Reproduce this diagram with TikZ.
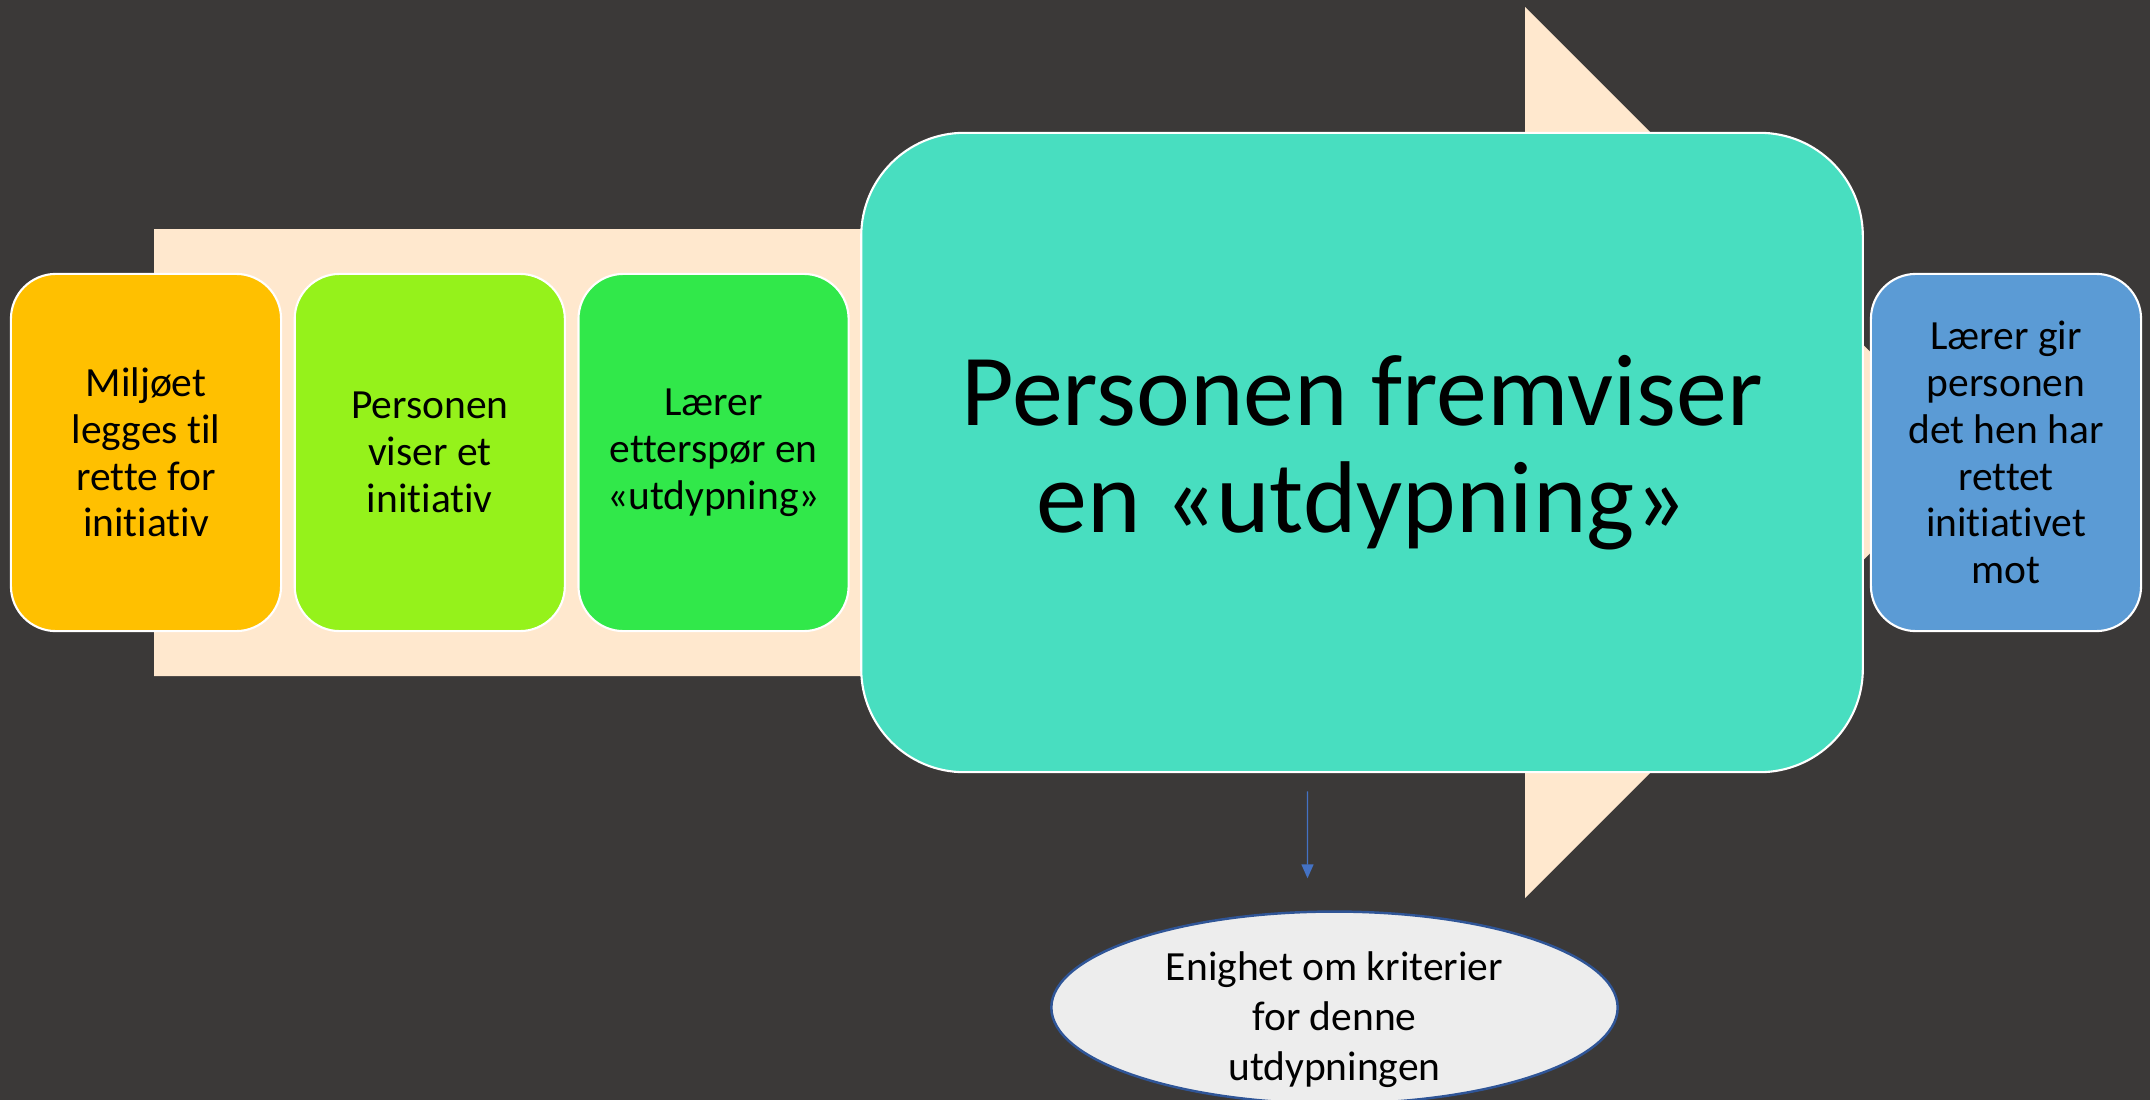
\documentclass[tikz,border=0pt]{standalone}
\usepackage{fontspec}
\setmainfont{Carlito}[Ligatures=NoCommon]
\usepackage{tikz}
\usetikzlibrary{positioning, arrows.meta, shapes.geometric}
\definecolor{bgdark}{RGB}{59,57,56}
\definecolor{peach}{RGB}{255,232,206}
\definecolor{envorange}{RGB}{255,192,0}
\definecolor{limegreen}{RGB}{149,242,27}
\definecolor{brightgreen}{RGB}{49,232,74}
\definecolor{tealfill}{RGB}{72,222,192}
\definecolor{stepblue}{RGB}{91,155,213}
\definecolor{ellgray}{RGB}{237,237,237}
\definecolor{ellborder}{RGB}{47,85,151}
\definecolor{arrowblue}{RGB}{68,114,196}
\tikzset{phase node/.style={rectangle, rounded corners=0.45cm, draw=white, line width=0.6pt, minimum width=2.7cm, minimum height=3.57cm, inner sep=2pt, align=center, font=\fontsize{11.8}{13.3}\selectfont},}
\tikzset{focus node/.style={rectangle, rounded corners=1.03cm, draw=white, line width=0.6pt, minimum width=10.01cm, minimum height=6.39cm, align=center, fill=tealfill, font=\fontsize{29}{30.5}\selectfont},}
\tikzset{goal node/.style={ellipse, draw=ellborder, line width=0.7pt, fill=ellgray, minimum width=5.66cm, minimum height=1.92cm},}

\begin{document}
\begin{tikzpicture}[x=0.01cm, y=-0.01cm]
				% Background
				\fill[bgdark] (0,0) rectangle (2150,1100);
				\useasboundingbox (0,0) rectangle (2150,1100);
				\fill[peach] (154,229) -- (1525,229) -- (1525,7) -- (1971,452.5) -- (1525,898) -- (1525,676) -- (154,676) -- cycle;
				% Steps
				\node[phase node, fill=envorange] (1) at (146,452.5) {Miljøet\\legges til\\rette for\\initiativ};
				\node[phase node, fill=limegreen] [right = 0.115cm of 1] (2) {Personen\\viser et\\initiativ};
				\node[phase node, fill=brightgreen] [right = 0.115cm of 2] (3) {Lærer\\etterspør en\\«utdypning»};
				\node[focus node] [right = 0.105cm of 3] (4) {Personen fremviser\\en «utdypning»};
				\node[phase node, fill=stepblue] [right = 0.06cm of 4] (5) {Lærer gir\\personen\\det hen har\\rettet\\initiativet\\mot};
				\node[goal node, label={[align=center, yshift=-0.12cm, font=\fontsize{11.8}{14.2}\selectfont]center:Enighet om kriterier\\for denne\\utdypningen}] [below = 1.37cm of 4, xshift=-0.275cm] (6) {};
				% Paths
				\draw[-{Triangle[length=0.14cm, width=0.12cm]}, arrowblue, line width=0.4pt, shorten <=0.18cm, shorten >=0.32cm]
				([xshift=-0.545cm]4.south) -- ([xshift=-0.27cm]6.north);
			\end{tikzpicture}
\end{document}
